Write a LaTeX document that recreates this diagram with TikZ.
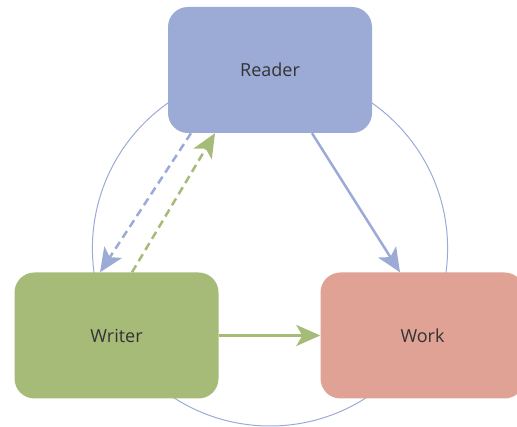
\documentclass[tikz,border=0pt]{standalone}
\usepackage{fontspec}
\setmainfont{Open Sans}
\usetikzlibrary{arrows.meta}
\definecolor{rblue}{HTML}{9CABD6}
\definecolor{wgreen}{HTML}{A6BB78}
\definecolor{kred}{HTML}{E0A294}
\definecolor{txt}{HTML}{333333}
\tikzset{
  box/.style={rectangle, rounded corners=20pt, minimum width=204pt, minimum height=126pt, inner sep=0pt, text=txt, font=\fontsize{18}{20}\selectfont},
  tip/.style={-{Stealth[length=24pt,width=21pt,inset=6pt]}},
  conn/.style={line width=2.5pt, tip},
  dconn/.style={conn, dash pattern=on 8pt off 5pt},
  circ/.style={draw=rblue, line width=1pt}
}
\begin{document}
\begin{tikzpicture}[x=1pt,y=-1pt]
\useasboundingbox (0,0) rectangle (517,427);
\node[circ, circle, minimum size=355.2pt, inner sep=0pt] (ring) at (270,248.4) {};
\node[box, fill=rblue] (reader) at (270,70) {Reader};
\node[box, fill=wgreen] (writer) at (116.5,335.5) {Writer};
\node[box, fill=kred] (work) at (422.5,335.5) {Work};
\draw[conn, rblue] ([xshift=42pt]reader.south) -- ([xshift=-22.5pt]work.north);
\draw[dconn, rblue] ([xshift=-79pt]reader.south) -- ([xshift=-16.5pt]writer.north);
\draw[dconn, wgreen] ([xshift=15.5pt]writer.north) -- ([xshift=-55pt]reader.south);
\draw[conn, wgreen] (writer.east) -- (work.west);
\end{tikzpicture}
\end{document}
